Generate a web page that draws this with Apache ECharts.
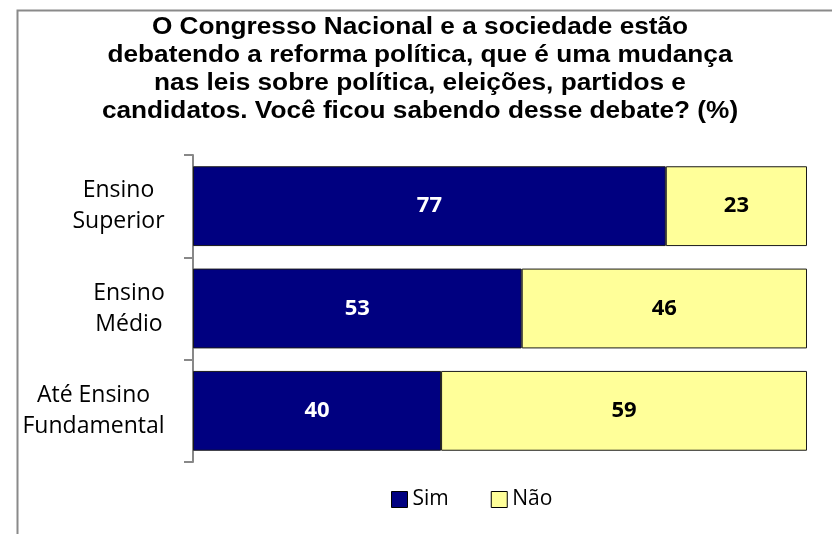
<!DOCTYPE html>
<html><head><meta charset="utf-8">
<script src="https://cdn.jsdelivr.net/npm/echarts@6/dist/echarts.min.js"></script>
<style>html,body{margin:0;padding:0;background:#fff}#c{width:832px;height:534px}</style>
</head><body><div id="c"></div>
<script>
const categories = ['Até Ensino\nFundamental', 'Ensino\nMédio', 'Ensino\nSuperior'];
const sim = [40, 53, 77];
const nao = [59, 46, 23];
const titleText = 'O Congresso Nacional e a sociedade estão\ndebatendo a reforma política, que é uma mudança\nnas leis sobre política, eleições, partidos e\ncandidatos. Você ficou sabendo desse debate? (%)';

const totals = sim.map((v, i) => v + nao[i]);
const simN = sim.map((v, i) => ({ value: v / totals[i] * 100, raw: v }));
const naoN = nao.map((v, i) => ({ value: v / totals[i] * 100, raw: v }));

const labFont = '"Open Sans", Lato, sans-serif';
const catFontSize = 23;
// measure widest line of each category label so lines can be centred within a right-aligned block
const ctx = document.createElement('canvas').getContext('2d');
ctx.font = catFontSize + 'px ' + labFont;
const rich = {};
categories.forEach((c, i) => {
  const w = Math.max(...c.split('\n').map(s => ctx.measureText(s).width));
  rich['r' + i] = { width: Math.ceil(w), align: 'center', fontFamily: labFont, fontSize: catFontSize, lineHeight: 31, color: '#000' };
});

const chart = echarts.init(document.getElementById('c'), null, { renderer: 'canvas' });
chart.setOption({
  animation: false,
  graphic: [
    {
      type: 'rect', shape: { x: 17.5, y: 10.5, width: 900, height: 600 },
      style: { fill: 'none', stroke: '#8a8a8a', lineWidth: 2 }, silent: true, z: -1
    },
    {
      type: 'text', x: 420, y: 14, scaleX: 1.14, scaleY: 1,
      style: {
        text: titleText, align: 'center', verticalAlign: 'top',
        font: 'bold 23px "Liberation Sans", Arial, sans-serif', lineHeight: 28, fill: '#000'
      }
    }
  ],
  legend: {
    data: ['Sim', 'Não'], left: 391, top: 489, padding: 0, itemWidth: 16, itemHeight: 16, itemGap: 42,
    icon: 'rect',
    itemStyle: { borderColor: '#000', borderWidth: 1 },
    textStyle: { fontFamily: labFont, fontSize: 21, color: '#000' },
  },
  grid: { left: 193, right: 25, top: 155, bottom: 72 },
  xAxis: { type: 'value', min: 0, max: 100, show: false },
  yAxis: {
    type: 'category', data: categories,
    axisLine: { show: true, lineStyle: { color: '#888', width: 2 } },
    axisTick: { show: true, length: 9, lineStyle: { color: '#888', width: 2 } },
    axisLabel: {
      margin: 28, align: 'right', fontFamily: labFont, fontSize: catFontSize, lineHeight: 31, color: '#000',
      formatter: (v, i) => v.split('\n').map(s => '{r' + i + '|' + s + '}').join('\n'),
      rich: rich
    }
  },
  series: [
    {
      name: 'Sim', type: 'bar', stack: 't', data: simN, barCategoryGap: '22%',
      itemStyle: { color: '#000080', borderColor: '#1a1a1a', borderWidth: 1 },
      label: { show: true, position: 'inside', formatter: p => p.data.raw, color: '#fff', fontWeight: 'bold', fontFamily: labFont, fontSize: 22 }
    },
    {
      name: 'Não', type: 'bar', stack: 't', data: naoN,
      itemStyle: { color: '#ffff99', borderColor: '#1a1a1a', borderWidth: 1 },
      label: { show: true, position: 'inside', formatter: p => p.data.raw, color: '#000', fontWeight: 'bold', fontFamily: labFont, fontSize: 22 }
    }
  ]
});
</script></body></html>
